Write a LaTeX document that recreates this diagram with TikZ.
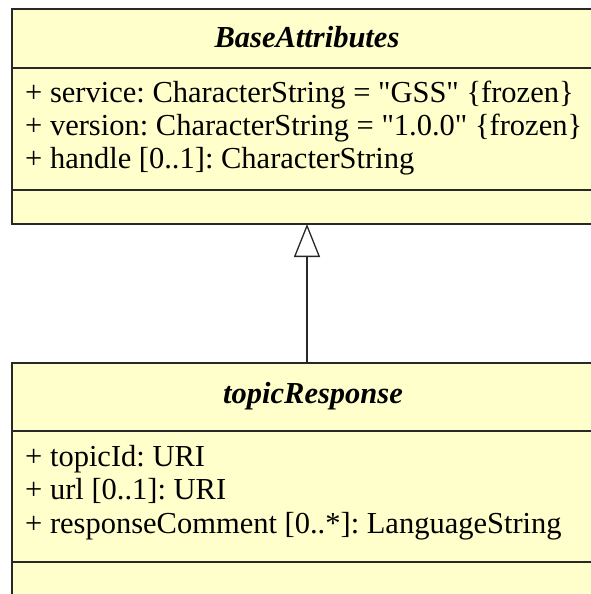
\documentclass[tikz,border=0pt]{standalone}
\usepackage{fontspec}
\setmainfont{Liberation Serif}
\newfontfamily\qfont{Liberation Serif}
\usetikzlibrary{arrows.meta}
\frenchspacing
\newcommand{\sq}{{\qfont\symbol{34}}}
\definecolor{umlfill}{RGB}{255,255,204}
\definecolor{umlline}{RGB}{40,40,40}
\tikzset{
  classbox/.style={draw=umlline, fill=umlfill, line width=1.6pt, rectangle, outer sep=0pt, inner sep=0pt, minimum width=590pt},
  sepline/.style={draw=umlline, line width=1.6pt},
  titletext/.style={inner sep=0pt, font=\fontsize{30.5}{33}\selectfont\bfseries\itshape, anchor=base},
  attrtext/.style={inner sep=0pt, font=\fontsize{30.5}{33}\selectfont, anchor=base west},
  genarrow/.style={draw=umlline, line width=1.3pt, -{Triangle[open, length=33pt, width=26pt]}}
}
\begin{document}
\begin{tikzpicture}[x=1pt,y=-1pt]
\useasboundingbox (0,0) rectangle (591,594);
\fill[white] (0,0) rectangle (591,594);
% BaseAttributes
\node[classbox, anchor=north west, minimum height=215pt] (baseBox) at (12,9) {};
\draw[sepline] ([yshift=-59pt]baseBox.north west) -- ([yshift=-59pt]baseBox.north east);
\draw[sepline] ([yshift=-181pt]baseBox.north west) -- ([yshift=-181pt]baseBox.north east);
\node[titletext] (baseTitle) at (307,48) {BaseAttributes};
\node[attrtext] (baseA1) at (25,102) {+ service: CharacterString = \sq GSS\sq{} \{frozen\}};
\node[attrtext] (baseA2) at (25,135) {+ version: CharacterString = \sq 1.0.0\sq{} \{frozen\}};
\node[attrtext] (baseA3) at (25,168) {+ handle [0..1]: CharacterString};
% topicResponse
\node[classbox, anchor=north west, minimum height=277pt] (subBox) at (12,363) {};
\draw[sepline] ([yshift=-68pt]subBox.north west) -- ([yshift=-68pt]subBox.north east);
\draw[sepline] ([yshift=-199pt]subBox.north west) -- ([yshift=-199pt]subBox.north east);
\node[titletext] (subTitle) at (313,403) {topicResponse};
\node[attrtext] (subA1) at (25,466) {+ topicId: URI};
\node[attrtext] (subA2) at (25,499) {+ url [0..1]: URI};
\node[attrtext] (subA3) at (25,533) {+ responseComment [0..*]: LanguageString};
% generalization
\draw[genarrow] (subBox.north) -- (baseBox.south);
\end{tikzpicture}
\end{document}
